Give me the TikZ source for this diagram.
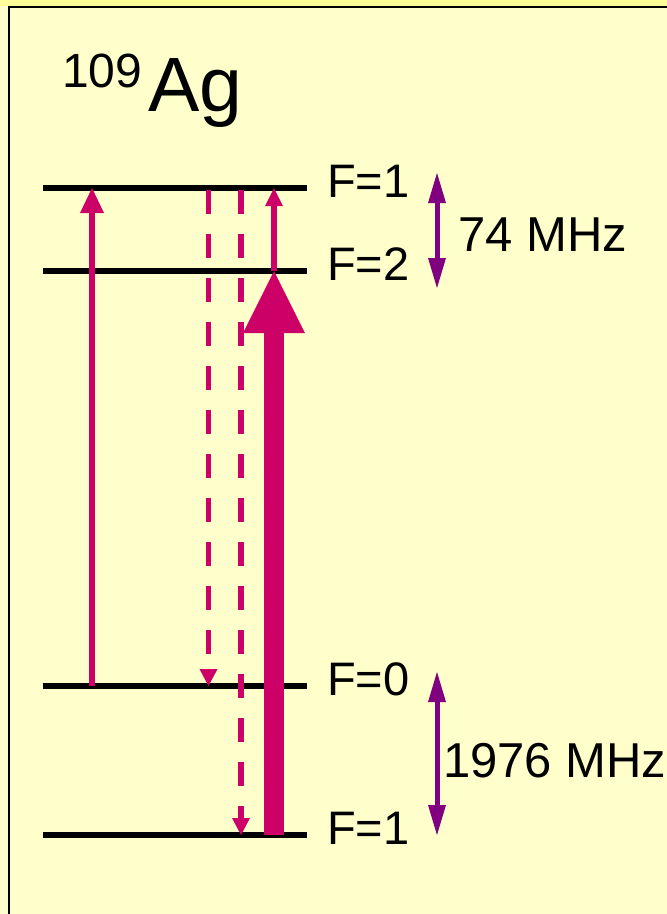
\documentclass[tikz,border=0pt]{standalone}
\usepackage{fontspec}
\setmainfont{Liberation Sans}
\usetikzlibrary{arrows.meta}

\definecolor{paper}{HTML}{FFFFCC}
\definecolor{strip}{HTML}{FFFF99}
\definecolor{trans}{HTML}{CC0066}
\definecolor{split}{HTML}{800080}

\tikzset{
  level/.style={line width=6pt, black},
  pump/.style={line width=6pt, trans, -{Triangle[length=25pt,width=24pt,line width=0pt]}},
  small pump/.style={line width=6pt, trans, -{Triangle[length=18pt,width=18pt,line width=0pt]}},
  big pump/.style={line width=20pt, trans, -{Triangle[length=62pt,width=62pt,line width=0pt]}},
  decay/.style={line width=5.5pt, trans, dash pattern=on 24pt off 20pt,
                -{Triangle[length=17pt,width=18pt,line width=0pt]}},
  gap/.style={line width=5pt, split,
              {Triangle[length=30pt,width=18pt,line width=0pt]}-{Triangle[length=30pt,width=18pt,line width=0pt]}},
  flabel/.style={font=\fontsize{47}{47}\selectfont, inner sep=0pt, anchor=base west},
  mhz/.style={font=\fontsize{49}{49}\selectfont, inner sep=0pt, anchor=base west}
}

\begin{document}
\begin{tikzpicture}[x=1pt, y=-1pt]

  % ================= frame =================
  \useasboundingbox (0,0) rectangle (667,914);
  \fill[paper] (0,0) rectangle (667,914);
  \fill[strip] (0,0) rectangle (667,6);
  \draw[line width=2pt] (9,914) -- (9,7) -- (667,7);

  % ================= geometry =================
  \def\xl{43}    % left end of levels
  \def\xr{307}   % right end of levels
  \coordinate (Fa) at (0,188);   % upper F=1
  \coordinate (Fb) at (0,271);   % upper F=2
  \coordinate (Fc) at (0,686);   % lower F=0
  \coordinate (Fd) at (0,835);   % lower F=1

  % ================= title =================
  \node[inner sep=0pt, anchor=base west] (iso) at (62,111)
    {\fontsize{48}{48}\selectfont\raisebox{24pt}{109}\kern6pt%
     \fontsize{77}{77}\selectfont Ag};

  % ================= levels =================
  \foreach \lv/\txt in {Fa/F=1, Fb/F=2, Fc/F=0, Fd/F=1}{
    \draw[level] (\xl,0 |- \lv) -- (\xr,0 |- \lv) coordinate (\lv-r);
    \node[flabel] (\lv-lab) at ([xshift=20pt,yshift=-9pt]\lv-r) {\txt};
  }

  % ================= transitions =================
  \coordinate (p1a) at (92,0 |- Fc);
  \coordinate (p1b) at (92,0 |- Fa);
  \draw[pump] (p1a) -- (p1b);
  % decays (dashed)
  \coordinate (d1a) at (208.5,190);
  \coordinate (d1b) at (208.5,0 |- Fc);
  \draw[decay] (d1a) -- (d1b);
  \coordinate (d2a) at (241,190);
  \coordinate (d2b) at (241,0 |- Fd);
  \draw[decay] (d2a) -- (d2b);
  % strong pump and microwave step
  \coordinate (p2a) at (274,0 |- Fd);
  \coordinate (p2b) at (274,0 |- Fb);
  \coordinate (p3b) at (274,0 |- Fa);
  \draw[big pump] (p2a) -- (p2b);
  \draw[small pump] (p2b) -- (p3b);

  % ================= splittings =================
  \coordinate (s1a) at (437,173);
  \coordinate (s1b) at (437,288);
  \draw[gap] (s1a) -- (s1b);
  \node[mhz] (s1lab) at (458,251) {74 MHz};
  \coordinate (s2a) at (437,672);
  \coordinate (s2b) at (437,835);
  \draw[gap] (s2a) -- (s2b);
  \node[mhz] (s2lab) at (443,777) {1976 MHz};

\end{tikzpicture}
\end{document}
